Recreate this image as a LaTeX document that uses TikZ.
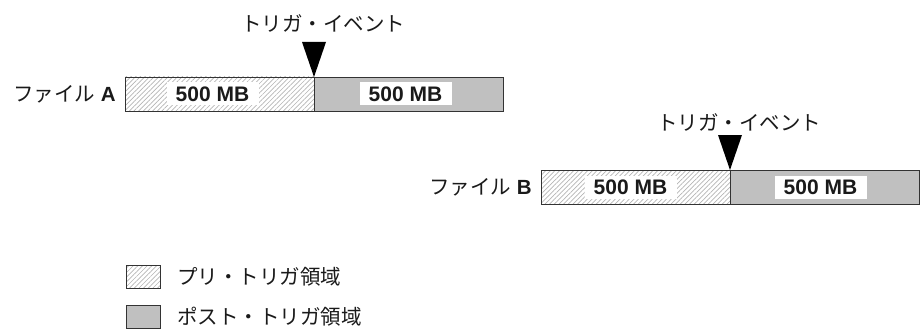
\documentclass[tikz,border=0pt]{standalone}
\usepackage{fontspec}
\setmainfont{Liberation Sans}
\newfontfamily\jpfont{Noto Sans CJK JP}
\usetikzlibrary{positioning,patterns.meta}

\definecolor{trInk}{HTML}{1A1A1A}
\definecolor{trEdge}{HTML}{333333}
\definecolor{trHatch}{HTML}{B4B4B4}
\definecolor{trPost}{HTML}{C0C0C0}

\begin{document}
\begin{tikzpicture}[
  x=1pt, y=-1pt, text=trInk,
  font=\fontsize{20.5}{24}\selectfont,
  tr region/.style={draw=trEdge,line width=.9pt,inner sep=0pt,outer sep=0pt,
    minimum width=189pt,minimum height=34pt},
  tr pre/.style={tr region,
    pattern={Lines[angle=45,distance=3.3pt,line width=.7pt]},pattern color=trHatch},
  tr post/.style={tr region,fill=trPost},
  tr size/.style={fill=white,inner sep=0pt,minimum width=92pt,minimum height=23pt,
    font=\fontsize{21}{24}\selectfont\bfseries},
  tr file/.style={inner sep=0pt},
  tr event/.style={inner sep=0pt,font=\fontsize{20.5}{24}\selectfont\jpfont},
  tr key/.style={minimum width=34pt,minimum height=23pt,anchor=north west}
]
\useasboundingbox (0,0) rectangle (922,329);

% File A: pre-trigger half, then post-trigger half.
\node[tr pre,anchor=north west] (preA) at (125,77) {};
\node[tr post,right=0pt of preA] (postA) {};
\node[tr size] (sizePreA) at ([xshift=-7pt]preA.center) {500 MB};
\node[tr size] (sizePostA) at ([xshift=-3pt]postA.center) {500 MB};
\node[tr file,left=9pt of preA] (fileA) {{\jpfont ファイル} \textbf{A}};

% File B, shifted right and down.
\node[tr pre,anchor=north west] (preB) at (541,170) {};
\node[tr post,right=0pt of preB] (postB) {};
\node[tr size] (sizePreB) at ([xshift=-5pt]preB.center) {500 MB};
\node[tr size] (sizePostB) at ([xshift=-4pt]postB.center) {500 MB};
\node[tr file,left=9pt of preB] (fileB) {{\jpfont ファイル} \textbf{B}};

% Trigger markers on the boundary of each file.
\foreach \f in {A,B}
  \fill[black] (pre\f.north east) -- ++(-12,-35) -- ++(24,0) -- cycle;
\node[tr event] (eventA) at ([xshift=9pt,yshift=53.5pt]preA.north east) {トリガ・イベント};
\node[tr event] (eventB) at ([xshift=9pt,yshift=48pt]preB.north east) {トリガ・イベント};

% Legend.
\node[tr pre,tr key] (keyPre) at (126,265) {};
\node[tr post,tr key] (keyPost) at (126,305) {};
\node[tr event,right=17pt of keyPre] (keyPreText) {プリ・トリガ領域};
\node[tr event,right=17pt of keyPost] (keyPostText) {ポスト・トリガ領域};
\end{tikzpicture}
\end{document}
